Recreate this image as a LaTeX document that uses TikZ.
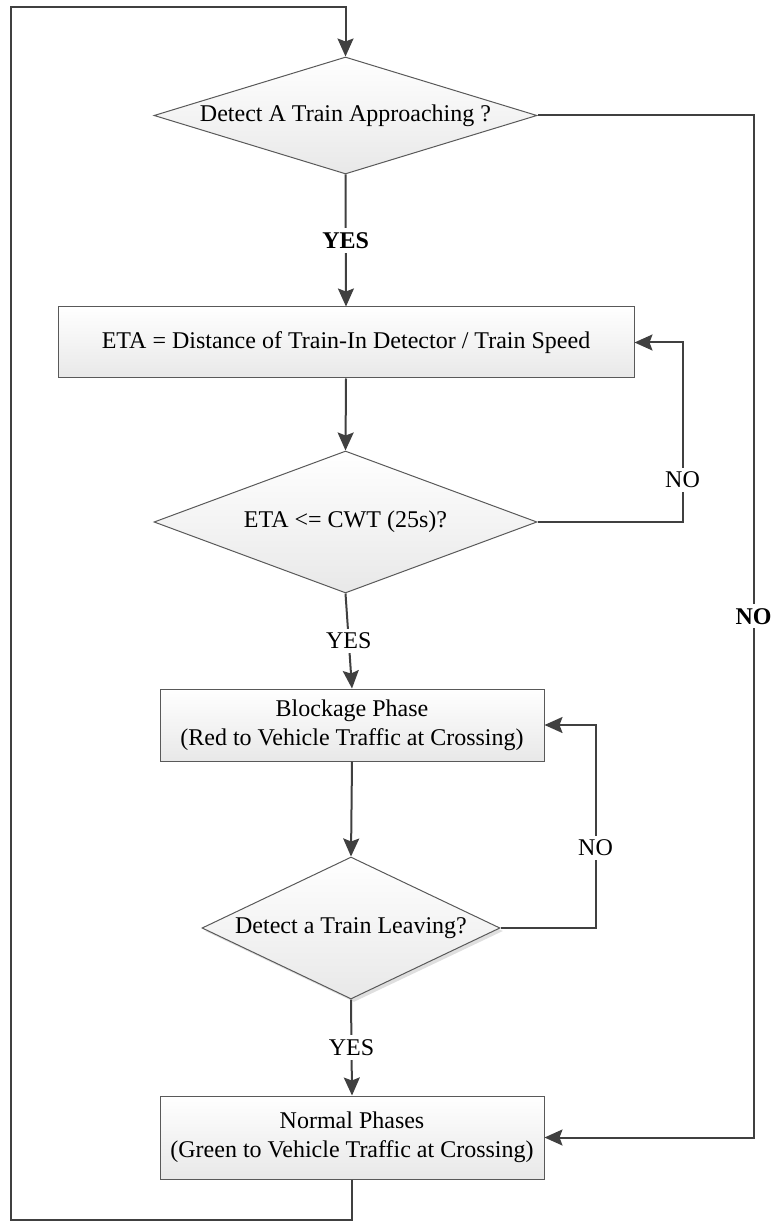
\documentclass[12pt,tikz,border=0pt]{standalone}
\usepackage{fontspec}
\setmainfont{Liberation Serif}
\usetikzlibrary{shapes.geometric,arrows.meta,shadows}

\begin{document}
\begin{tikzpicture}[x=0.5pt, y=-0.5pt,
    line/.style={draw=black!75, line width=1pt},
    flow/.style={line, -{Stealth[length=9pt, width=8pt, inset=1.5pt]}},
    proc/.style={draw=black!65, line width=0.5pt, top color=white,
                 bottom color=black!9, align=center, inner sep=0pt},
    decide/.style={proc, diamond},
    lbl/.style={fill=white, inner sep=2pt}]
    \useasboundingbox (0,0) rectangle (773,1224);

    % --- detection -----------------------------------------------------
    \node[decide, shape aspect=3.27, minimum width=191.5pt,
          minimum height=58.5pt] (approach) at (345.5,115.5)
          {Detect A Train Approaching ?};
    \node[proc, minimum width=288pt, minimum height=35.5pt] (eta) at (346,342.5)
          {ETA = Distance of Train-In Detector / Train Speed};
    \node[decide, shape aspect=2.7, minimum width=191.5pt,
          minimum height=71pt] (cwt) at (345.5,522) {ETA <= CWT (25s)?};

    % --- blockage ------------------------------------------------------
    \node[proc, minimum width=192pt, minimum height=36pt] (block) at (352,725)
          {Blockage Phase\\(Red to Vehicle Traffic at Crossing)};
    \node[decide, shape aspect=2.1, minimum width=149pt, minimum height=71pt,
          drop shadow={shadow xshift=1.5pt, shadow yshift=-1.5pt, opacity=0.25}]
          (leave) at (351,928) {Detect a Train Leaving?};

    % --- back to normal ------------------------------------------------
    \node[proc, minimum width=192pt, minimum height=41.5pt] (normal) at (352,1137.5)
          {Normal Phases\\(Green to Vehicle Traffic at Crossing)};

    % Main flow
    \draw[flow] (approach.south) -- node[lbl, font=\bfseries] {YES} (eta.north);
    \draw[flow] (eta.south) -- (cwt.north);
    \draw[flow] (cwt.south) -- node[lbl] {YES} (block.north);
    \draw[flow] (block.south) -- (leave.north);
    \draw[flow] (leave.south) -- node[lbl] {YES} (normal.north);

    % NO loops
    \draw[flow] (cwt.east) -- ++(145,0) |- node[lbl, pos=0.117] {NO} (eta.east);
    \draw[flow] (leave.east) -- ++(95,0) |- node[lbl, pos=0.197] {NO} (block.east);
    \draw[flow] (approach.east) -- ++(216,0)
        |- node[lbl, pos=0.245, font=\bfseries] {NO} (normal.east);

    % Return to start
    \coordinate (corner) at (11,7);
    \draw[flow] (normal.south) -- ++(0,40) -| (corner) -| (approach.north);
\end{tikzpicture}
\end{document}
